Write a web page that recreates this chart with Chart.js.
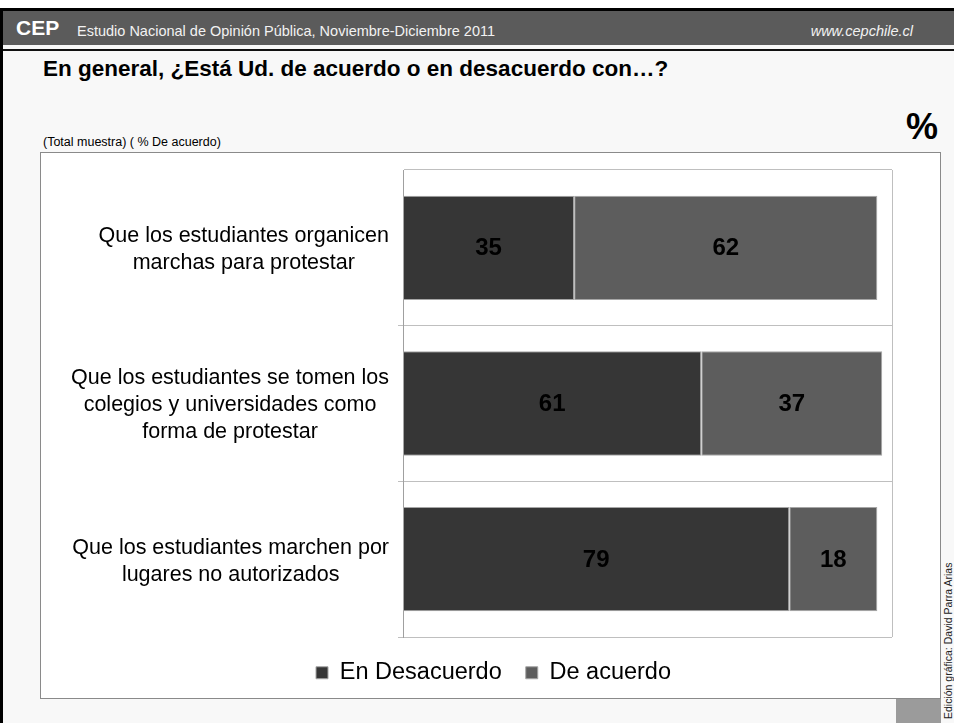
<!DOCTYPE html>
<html lang="es">
<head>
<meta charset="UTF-8">
<title>CEP - De acuerdo o en desacuerdo</title>
<script src="https://cdn.jsdelivr.net/npm/chart.js"></script>
<style>
  body { margin: 0; width: 954px; height: 723px; position: relative; overflow: hidden; background: #f8f8f8; font-family: "Liberation Sans", Arial, sans-serif; }
  .abs { position: absolute; white-space: nowrap; }
  .topstrip { left: 0; top: 0; width: 954px; height: 8px; background: #fff; }
  .topline { left: 0; top: 8px; width: 954px; height: 3px; background: #000; }
  .header { left: 0; top: 11px; width: 954px; height: 34px; background: #5b5b5b; }
  .rule { left: 0; top: 49px; width: 954px; height: 2px; background: #111; }
  .leftline { left: 0; top: 8px; width: 3px; height: 715px; background: #000; }
  .cep { left: 16px; top: 17px; font-size: 21px; font-weight: bold; color: #fff; line-height: 21px; }
  .study { left: 77px; top: 23.5px; font-size: 14.5px; color: #f2f2f2; line-height: 15px; }
  .web { right: 41px; top: 23.5px; font-size: 14.5px; font-style: italic; color: #f2f2f2; line-height: 15px; }
  .title { left: 43px; top: 57px; font-size: 22.5px; font-weight: bold; color: #000; line-height: 23px; }
  .subtitle { left: 43px; top: 136px; font-size: 12.5px; color: #000; line-height: 13px; }
  .pct { right: 16px; top: 109px; font-size: 36px; font-weight: bold; color: #000; line-height: 36px; }
  .box { left: 40px; top: 152px; width: 901px; height: 547px; box-sizing: border-box; border: 1px solid #8a8a8a; background: #fff; }
  .credit { left: 943px; top: 719px; font-size: 10.5px; color: #222; line-height: 11px; transform: rotate(-90deg); transform-origin: left top; font-family: "Liberation Sans Narrow", "Liberation Sans", Arial, sans-serif; }
  .corner { left: 896px; top: 699px; width: 45px; height: 24px; background: #9b9b9b; }
  canvas { position: absolute; left: 0; top: 0; }
</style>
</head>
<body>
<div class="abs topstrip"></div>
<div class="abs header"></div>
<div class="abs topline"></div>
<div class="abs rule"></div>
<div class="abs leftline"></div>
<div class="abs cep">CEP</div>
<div class="abs study">Estudio Nacional de Opinión Pública, Noviembre-Diciembre 2011</div>
<div class="abs web">www.cepchile.cl</div>
<div class="abs title">En general, ¿Está Ud. de acuerdo o en desacuerdo con…?</div>
<div class="abs subtitle">(Total muestra) ( % De acuerdo)</div>
<div class="abs pct">%</div>
<div class="abs box"><canvas id="chart" width="899" height="545"></canvas></div>
<div class="abs corner"></div>
<div class="abs credit">Edición gráfica: David Parra Arias</div>
<script>
// categories (one array of lines per question)
const categories = [
  ['Que los estudiantes organicen', 'marchas para protestar'],
  ['Que los estudiantes se tomen los', 'colegios y universidades como', 'forma de protestar'],
  ['Que los estudiantes marchen por', 'lugares no autorizados']
];
const seriesNames = ['En Desacuerdo', 'De acuerdo'];
const desacuerdo = [35, 61, 79];
const deAcuerdo = [62, 37, 18];
const xMin = 0;
const xMax = 100;

const FONT = '"Liberation Sans", Arial, sans-serif';
Chart.defaults.font.family = FONT;

// y labels: each block right-aligned to the axis, lines centered inside the block
const catLabels = {
  id: 'catLabels',
  afterDraw(chart) {
    const {ctx, chartArea} = chart;
    const yScale = chart.scales.y;
    const right = chartArea.left - 14;
    const lineH = 27;
    ctx.save();
    ctx.font = '21.5px ' + FONT;
    ctx.fillStyle = '#000';
    ctx.textAlign = 'center';
    ctx.textBaseline = 'middle';
    categories.forEach((lines, i) => {
      const w = Math.max(...lines.map(l => ctx.measureText(l).width));
      const cx = right - w / 2;
      const cy = yScale.getPixelForValue(i) + 2;
      lines.forEach((l, k) => {
        ctx.fillText(l, cx, cy + (k - (lines.length - 1) / 2) * lineH);
      });
    });
    ctx.restore();
  }
};

// value inside each bar segment
const barValues = {
  id: 'barValues',
  afterDatasetsDraw(chart) {
    const {ctx} = chart;
    ctx.save();
    ctx.font = 'bold 24px ' + FONT;
    ctx.fillStyle = '#000';
    ctx.textAlign = 'center';
    ctx.textBaseline = 'middle';
    chart.data.datasets.forEach((ds, di) => {
      chart.getDatasetMeta(di).data.forEach((bar, i) => {
        const {x, base, y} = bar.getProps(['x', 'base', 'y'], true);
        ctx.fillText(String(ds.data[i]), (x + base) / 2, y + 1);
      });
    });
    ctx.restore();
  }
};

// right edge of the plot frame
const plotFrame = {
  id: 'plotFrame',
  beforeDatasetsDraw(chart) {
    const {ctx, chartArea: a} = chart;
    ctx.save();
    ctx.strokeStyle = '#bfbfbf';
    ctx.lineWidth = 1;
    ctx.beginPath();
    ctx.moveTo(Math.round(a.right) + 0.5, a.top);
    ctx.lineTo(Math.round(a.right) + 0.5, a.bottom);
    ctx.stroke();
    ctx.restore();
  }
};

// legend is centred on the whole box, not on the padded area
const legendShift = {
  id: 'legendShift',
  afterLayout(chart) {
    const lg = chart.legend;
    lg.left += 27;
    lg.right += 27;
  }
};

new Chart(document.getElementById('chart'), {
  type: 'bar',
  data: {
    labels: categories,
    datasets: [
      { label: seriesNames[0], data: desacuerdo, backgroundColor: '#363636', borderColor: '#a6a6a6', borderWidth: 1, borderSkipped: false },
      { label: seriesNames[1], data: deAcuerdo, backgroundColor: '#5d5d5d', borderColor: '#a6a6a6', borderWidth: 1, borderSkipped: false }
    ]
  },
  options: {
    indexAxis: 'y',
    responsive: false,
    animation: false,
    devicePixelRatio: 1,
    barPercentage: 0.67,
    categoryPercentage: 1,
    layout: { padding: { top: 17, right: 48, bottom: 3.5, left: 0 } },
    scales: {
      x: { stacked: true, min: xMin, max: xMax, display: false },
      y: {
        stacked: true,
        ticks: { display: false },
        grid: {
          offset: true,
          color: '#bfbfbf',
          tickLength: 5,
          tickColor: c => (c.index === 0 ? 'rgba(0,0,0,0)' : '#bfbfbf')
        },
        border: { color: '#a0a0a0' },
        afterFit(s) { s.width = 362; }
      }
    },
    plugins: {
      legend: {
        position: 'bottom',
        labels: { color: '#000', font: { size: 23.5 }, boxWidth: 12, boxHeight: 12, padding: 24 }
      },
      tooltip: { enabled: false }
    }
  },
  plugins: [catLabels, barValues, plotFrame, legendShift]
});
</script>
</body>
</html>
